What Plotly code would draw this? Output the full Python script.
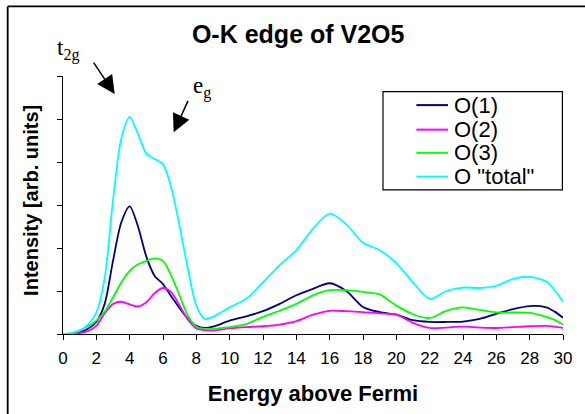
import plotly.graph_objects as go

energy = [0, 0.5, 1, 1.5, 2, 2.5, 3, 3.5, 4, 4.5, 5, 5.5, 6, 6.5, 7, 7.5, 8, 8.5, 9,
          10, 11, 12, 13, 14, 15, 16, 17, 18, 19, 20, 21, 22, 23, 24, 25, 26, 27, 28, 29, 29.5, 30]

o1 = [0, 0.01, 0.04, 0.12, 0.28, 0.7, 1.7, 2.6, 2.97, 2.5, 1.8, 1.35, 1.16, 0.87, 0.6, 0.35, 0.19, 0.14, 0.17,
      0.31, 0.41, 0.53, 0.7, 0.9, 1.05, 1.18, 1.0, 0.63, 0.51, 0.45, 0.32, 0.28, 0.28, 0.29, 0.35, 0.47, 0.58, 0.65, 0.62, 0.52, 0.38]

o2 = [0, 0.0, 0.02, 0.07, 0.19, 0.48, 0.7, 0.75, 0.69, 0.64, 0.74, 0.95, 1.07, 0.97, 0.66, 0.33, 0.13, 0.09, 0.08,
      0.13, 0.16, 0.18, 0.22, 0.3, 0.45, 0.54, 0.53, 0.51, 0.48, 0.45, 0.26, 0.14, 0.15, 0.17, 0.15, 0.14, 0.16, 0.18, 0.19, 0.17, 0.14]

o3 = [0, 0.02, 0.08, 0.18, 0.31, 0.52, 0.85, 1.2, 1.47, 1.62, 1.7, 1.76, 1.7, 1.35, 0.89, 0.42, 0.17, 0.12, 0.12,
      0.16, 0.23, 0.4, 0.54, 0.7, 0.9, 1.02, 1.02, 0.98, 0.92, 0.66, 0.46, 0.37, 0.54, 0.62, 0.56, 0.5, 0.5, 0.49, 0.4, 0.33, 0.22]

o_total = [0, 0.02, 0.08, 0.22, 0.5, 1.3, 3.1, 4.55, 5.05, 4.65, 4.2, 4.07, 3.95, 3.4, 2.5, 1.5, 0.66, 0.35, 0.4,
           0.62, 0.82, 1.2, 1.6, 1.95, 2.45, 2.8, 2.55, 2.12, 1.95, 1.65, 1.2, 0.82, 1.0, 1.08, 1.07, 1.12, 1.28, 1.33, 1.22, 1.02, 0.75]

series_names = ["O(1)", "O(2)", "O(3)", 'O "total"']
series_colors = ["#000080", "#FF00FF", "#00FF00", "#00FFFF"]
series_values = [o1, o2, o3, o_total]

x_ticks = list(range(0, 31, 2))

FONT = "Liberation Sans, Arial, sans-serif"
SERIF = "Liberation Serif, Times New Roman, serif"

fig = go.Figure()
for name, color, vals in zip(series_names, series_colors, series_values):
    fig.add_trace(go.Scatter(x=energy, y=vals, name=name, mode="lines", showlegend=False,
                             line=dict(color=color, width=1.8, shape="spline", smoothing=0.8)))

# plot area geometry (pixels)
L, R, T, B = 63.3, 563.3, 76.0, 335.7
W, H = 585, 414


def px(x):
    return (x - L) / (R - L)


def py(y):
    return (B - y) / (B - T)


shapes = [
    # outer frame (top and left edges)
    dict(type="line", xref="paper", yref="paper", x0=px(8), x1=px(600), y0=py(6), y1=py(6),
         line=dict(color="black", width=1.8)),
    dict(type="line", xref="paper", yref="paper", x0=px(8), x1=px(8), y0=py(6), y1=py(430),
         line=dict(color="black", width=1.8)),
    # legend box
    dict(type="rect", xref="paper", yref="paper", x0=px(383.3), x1=px(562.7), y0=py(190.7), y1=py(91.7),
         line=dict(color="black", width=1.2)),
]

annotations = [
    dict(text="t<sub>2g</sub>", xref="paper", yref="paper", x=px(55), y=py(33),
         xanchor="left", yanchor="top", showarrow=False,
         font=dict(family=SERIF, size=23, color="black")),
    dict(text="e<sub>g</sub>", xref="paper", yref="paper", x=px(191), y=py(71),
         xanchor="left", yanchor="top", showarrow=False,
         font=dict(family=SERIF, size=23, color="black")),
    dict(text="", x=3.1, y=5.58, ax=-22, ay=-33, showarrow=True, arrowhead=2,
         arrowsize=2.4, arrowwidth=1.5, arrowcolor="black"),
    dict(text="", x=6.64, y=4.69, ax=15, ay=-33, showarrow=True, arrowhead=2,
         arrowsize=2.4, arrowwidth=1.5, arrowcolor="black"),
    dict(text="<b>Intensity [arb. units]</b>", xref="paper", yref="paper", x=px(31), y=py(201),
         xanchor="center", yanchor="middle", textangle=-90, showarrow=False,
         font=dict(size=20, family=FONT, color="black")),
]

# custom legend (box drawn above)
legend_rows = [105.3, 130.0, 153.3, 177.3]
for name, color, row in zip(series_names, series_colors, legend_rows):
    shapes.append(dict(type="line", xref="paper", yref="paper", x0=px(416.7), x1=px(448.3),
                       y0=py(row), y1=py(row), line=dict(color=color, width=2)))
    annotations.append(dict(text=name, xref="paper", yref="paper", x=px(452), y=py(row),
                            xanchor="left", yanchor="middle", showarrow=False,
                            font=dict(size=22, family=FONT, color="black")))

fig.update_layout(
    width=W, height=H, autosize=False,
    margin=dict(l=L, r=W - R, t=T, b=H - B, pad=0),
    paper_bgcolor="white", plot_bgcolor="white",
    font=dict(family=FONT, color="black"),
    title=dict(text="<b>O-K edge of V2O5</b>", xref="paper", x=px(298.5), xanchor="center",
               yref="container", y=1 - 34 / H, yanchor="middle", font=dict(size=25, family=FONT)),
    xaxis=dict(range=[0, 30], tickvals=x_ticks, ticktext=[str(t) for t in x_ticks],
               showline=True, linecolor="black", linewidth=1.2, ticks="outside", ticklen=5,
               tickcolor="black", tickwidth=1.2, showgrid=False, zeroline=False,
               tickfont=dict(size=17), ticklabelstandoff=3,
               title=dict(text="<b>Energy above Fermi</b>", font=dict(size=22), standoff=19)),
    yaxis=dict(range=[0, 6], dtick=1, showticklabels=False,
               showline=True, linecolor="black", linewidth=1.2, ticks="outside", ticklen=5,
               tickcolor="black", tickwidth=1.2, showgrid=False, zeroline=False),
    shapes=shapes,
    annotations=annotations,
    showlegend=False,
)

fig.write_html("out.html", config={"displayModeBar": False},
               post_script="document.body.style.margin='0';document.body.style.padding='0';")
